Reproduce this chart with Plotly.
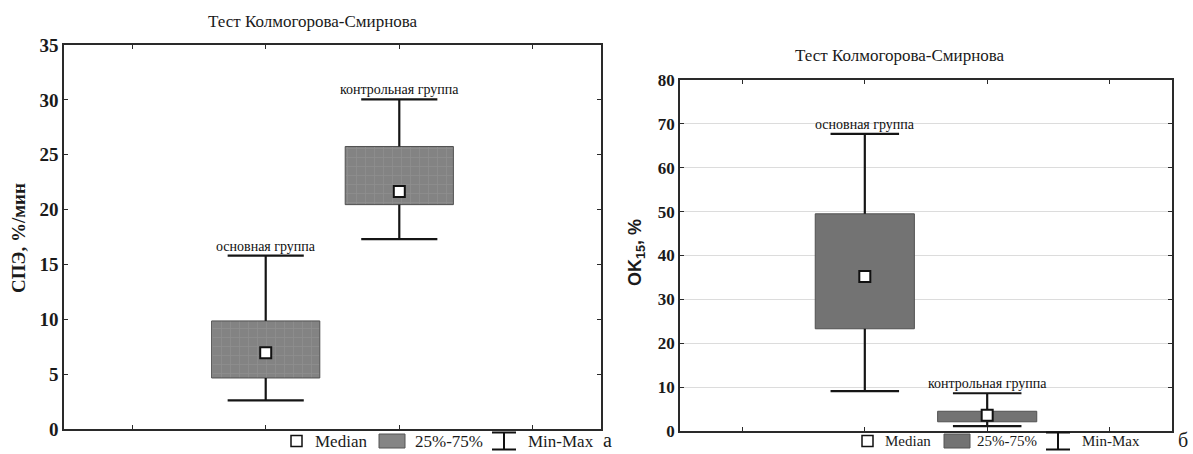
import plotly.graph_objects as go

W, H = 1193, 454

# ---------------- data ----------------
groups = ["основная группа", "контрольная группа"]
positions = [1, 2]

# panel a: СПЭ, %/мин
a_min = [2.6, 17.3]
a_q1 = [4.65, 20.45]
a_med = [6.95, 21.65]
a_q3 = [9.85, 25.75]
a_max = [15.8, 30.05]

# panel б: OK15, %
b_min = [9.1, 1.1]
b_q1 = [23.3, 2.1]
b_med = [35.2, 3.6]
b_q3 = [49.5, 4.5]
b_max = [67.7, 8.6]

title_text = "Тест Колмогорова-Смирнова"
a_ylabel = "<b>СПЭ, %/мин</b>"
b_ylabel = "<b>OK<sub>15</sub>, %</b>"
a_ticks = [0, 5, 10, 15, 20, 25, 30, 35]
b_ticks = [0, 10, 20, 30, 40, 50, 60, 70, 80]
legend_labels = ["Median", "25%-75%", "Min-Max"]

SERIF = "'Liberation Serif', 'Times New Roman', serif"
SANS = "'Liberation Sans', Arial, sans-serif"


def px(x):
    return x / W


def py(y):
    return 1 - y / H


fig = go.Figure()


def add_panel(xa, ya, mn, q1, med, q3, mx, fill, cap, pattern):
    fig.add_trace(go.Bar(
        x=positions, base=q1, y=[b - a for a, b in zip(q1, q3)],
        width=0.81, xaxis=xa, yaxis=ya,
        marker=dict(color=fill, line=dict(color="#505050", width=1),
                    pattern=pattern),
        showlegend=False, hoverinfo="skip"))
    wx, wy = [], []
    for p, lo, a, b, hi in zip(positions, mn, q1, q3, mx):
        wx += [p, p, None, p, p, None, p - cap, p + cap, None, p - cap, p + cap, None]
        wy += [lo, a, None, b, hi, None, hi, hi, None, lo, lo, None]
    fig.add_trace(go.Scatter(
        x=wx, y=wy, mode="lines", xaxis=xa, yaxis=ya,
        line=dict(color="#151515", width=2.2),
        showlegend=False, hoverinfo="skip"))
    fig.add_trace(go.Scatter(
        x=positions, y=med, mode="markers", xaxis=xa, yaxis=ya,
        marker=dict(symbol="square", size=11, color="white",
                    line=dict(color="#111", width=2)),
        showlegend=False, hoverinfo="skip"))
    for p, g, hi in zip(positions, groups, mx):
        fig.add_annotation(x=p, y=hi, xref=xa, yref=ya, text=g,
                           showarrow=False, xanchor="center", yanchor="bottom", yshift=0,
                           font=dict(family=SERIF, size=14, color="#111"))


add_panel("x", "y", a_min, a_q1, a_med, a_q3, a_max, "#858585", 0.285,
          dict(shape="+", fgcolor="#9c9c9c", bgcolor="#838383", size=9, solidity=0.15))
add_panel("x2", "y2", b_min, b_q1, b_med, b_q3, b_max, "#737373", 0.28, None)

axis_common = dict(showline=True, linecolor="#2a2a2a", linewidth=1.5,
                   mirror="ticks", ticks="inside", ticklen=4,
                   tickcolor="#2a2a2a", zeroline=False, automargin=False)

fig.update_layout(
    width=W, height=H,
    margin=dict(l=0, r=0, t=0, b=0, autoexpand=False),
    paper_bgcolor="white", plot_bgcolor="white",
    showlegend=False,
    font=dict(family=SERIF),
    xaxis=dict(domain=[px(64), px(601)], range=[-0.51, 3.51],
               tickvals=[0, 1, 2, 3], showticklabels=False,
               showgrid=False, anchor="y", **axis_common),
    yaxis=dict(domain=[py(429), py(45)], range=[0, 35], tickvals=a_ticks,
               showgrid=False, anchor="x",
               tickfont=dict(family=SERIF, size=19, color="#1a1a1a", weight="bold"),
               **axis_common),
    xaxis2=dict(domain=[px(680), px(1172)], range=[-0.51, 3.51],
                tickvals=[0, 1, 2, 3], showticklabels=False,
                showgrid=False, anchor="y2", **axis_common),
    yaxis2=dict(domain=[py(431), py(80)], range=[0, 80], tickvals=b_ticks,
                showgrid=True, gridcolor="#dcdcdc", gridwidth=1, anchor="x2",
                tickfont=dict(family=SERIF, size=17, color="#1a1a1a", weight="bold"),
                **axis_common),
)


def note(x, y, text, size, family=SERIF, angle=0, xanchor="center"):
    fig.add_annotation(x=px(x), y=py(y), xref="paper", yref="paper",
                       text=text, showarrow=False, textangle=angle,
                       xanchor=xanchor, yanchor="middle",
                       font=dict(family=family, size=size, color="#1a1a1a"))


# titles
note(313, 21, title_text, 17)
note(900, 56, title_text, 17)

# axis labels
note(19, 238, a_ylabel, 19, angle=-90)
note(636, 253, b_ylabel, 18, family=SANS, angle=-90)


# manual legends
def add_legend(sq, med_x, sw, sw_x, ib, mm_x, yc, fsize, fill):
    fig.add_shape(type="rect", xref="paper", yref="paper",
                  x0=px(sq), x1=px(sq + 11), y0=py(yc + 5.5), y1=py(yc - 5.5),
                  line=dict(color="#111", width=1.5), fillcolor="white")
    note(med_x, yc, legend_labels[0], fsize, xanchor="left")
    fig.add_shape(type="rect", xref="paper", yref="paper",
                  x0=px(sw), x1=px(sw + 26), y0=py(yc + 7), y1=py(yc - 7),
                  line=dict(color="#555", width=1), fillcolor=fill)
    note(sw_x, yc, legend_labels[1], fsize, xanchor="left")
    for yy in (yc - 8.5, yc + 8.5):
        fig.add_shape(type="line", xref="paper", yref="paper",
                      x0=px(ib), x1=px(ib + 24), y0=py(yy), y1=py(yy),
                      line=dict(color="#111", width=2))
    fig.add_shape(type="line", xref="paper", yref="paper",
                  x0=px(ib + 12), x1=px(ib + 12), y0=py(yc - 8.5), y1=py(yc + 8.5),
                  line=dict(color="#111", width=2))
    note(mm_x, yc, legend_labels[2], fsize, xanchor="left")


add_legend(291, 313, 379, 413, 492, 526, 441, 17, "#858585")
add_legend(862, 883, 944, 975, 1046, 1080, 441, 15, "#737373")

# panel letters
note(607, 440, "а", 20)
note(1183, 440, "б", 20)

fig.write_html("out.html")
